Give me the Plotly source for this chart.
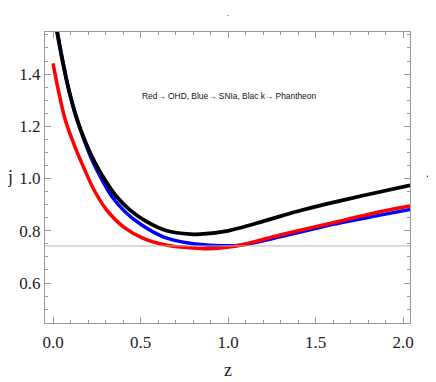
import plotly.graph_objects as go

z_black = [0.0, 0.021, 0.053, 0.088, 0.13, 0.185, 0.24, 0.297, 0.364, 0.44, 0.535, 0.65, 0.783, 0.84, 1.0, 1.2, 1.393, 1.583, 1.773, 2.04]
j_black = [1.646, 1.568, 1.454, 1.345, 1.24, 1.14, 1.06, 0.994, 0.93, 0.879, 0.835, 0.80, 0.787, 0.787, 0.80, 0.836, 0.874, 0.906, 0.935, 0.974]

z_red = [0.0, 0.03, 0.07, 0.126, 0.154, 0.23, 0.307, 0.402, 0.516, 0.65, 0.783, 0.878, 1.069, 1.297, 1.583, 1.869, 2.04]
j_red = [1.441, 1.339, 1.224, 1.12, 1.075, 0.962, 0.879, 0.815, 0.771, 0.745, 0.735, 0.731, 0.745, 0.784, 0.828, 0.873, 0.895]

z_blue = [0.0, 0.021, 0.053, 0.088, 0.13, 0.18, 0.23, 0.28, 0.335, 0.411, 0.507, 0.63, 0.783, 0.916, 1.069, 1.297, 1.583, 1.869, 2.04]
j_blue = [1.65, 1.575, 1.458, 1.345, 1.243, 1.143, 1.06, 0.995, 0.932, 0.873, 0.822, 0.777, 0.752, 0.744, 0.745, 0.777, 0.822, 0.86, 0.882]

j_ref = 0.742
x_ticks = [0.0, 0.5, 1.0, 1.5, 2.0]
y_ticks = [0.6, 0.8, 1.0, 1.2, 1.4]
note = "Red\u2192 OHD, Blue\u2192 SNIa, Blac k\u2192 Phantheon"

fig = go.Figure()
fig.add_hline(y=j_ref, line=dict(color="#b4b4b4", width=1))
fig.add_trace(go.Scatter(x=z_blue, y=j_blue, mode="lines",
                         line=dict(color="#0000ff", width=3.5, shape="spline", smoothing=0.8)))
fig.add_trace(go.Scatter(x=z_red, y=j_red, mode="lines",
                         line=dict(color="#ff0000", width=3.5, shape="spline", smoothing=0.8)))
fig.add_trace(go.Scatter(x=z_black, y=j_black, mode="lines",
                         line=dict(color="#000000", width=3.8, shape="spline", smoothing=0.8)))

serif = "Liberation Serif"
axis_common = dict(
    showgrid=False, zeroline=False, showline=True, linecolor="#999999", linewidth=1,
    mirror="ticks", ticks="inside", ticklen=6, tickcolor="#999999",
    tickfont=dict(family=serif, size=17, color="#222222"),
)
fig.update_xaxes(range=[-0.046, 2.04], tickvals=x_ticks, tickformat=".1f",
                 minor=dict(dtick=0.1, ticks="inside", ticklen=3, tickcolor="#999999"),
                 ticklabelstandoff=4, **axis_common)
fig.update_yaxes(range=[0.447, 1.561], tickvals=y_ticks, tickformat=".1f",
                 minor=dict(dtick=0.05, ticks="inside", ticklen=3, tickcolor="#999999"),
                 **axis_common)

def label(x, y, text, font, yanchor="middle"):
    fig.add_annotation(x=x, y=y, xref="paper", yref="paper", text=text, showarrow=False,
                       xanchor="center", yanchor=yanchor, font=font)

label(0.501, -0.161, "z", dict(family=serif, size=18, color="#222222"))
label(-0.096, 0.502, "j", dict(family=serif, size=18, color="#222222"))
label(0.505, 0.780, note, dict(family="Liberation Sans", size=8.4, color="#111111"))
label(0.501, 1.041, ".", dict(family=serif, size=9, color="#000000"), yanchor="bottom")
label(1.049, 0.515, ".", dict(family=serif, size=12, color="#000000"))

fig.update_layout(
    width=436, height=382, showlegend=False,
    margin=dict(l=37, r=34, t=24, b=67),
    plot_bgcolor="white", paper_bgcolor="white",
)
fig.write_html("out.html")
